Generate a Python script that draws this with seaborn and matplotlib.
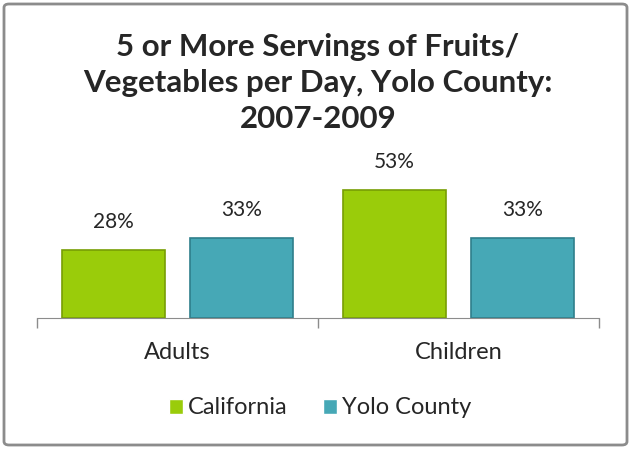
import matplotlib
matplotlib.use("Agg")
import matplotlib.pyplot as plt
import seaborn as sns
import pandas as pd
from matplotlib.patches import FancyBboxPatch

groups = ["Adults", "Adults", "Children", "Children"]
regions = ["California", "Yolo County", "California", "Yolo County"]
pcts = [28, 33, 53, 33]
PALETTE = {"California": "#9ACC0A", "Yolo County": "#46A8B6"}
EDGES = {"California": "#789E04", "Yolo County": "#2F7F8B"}

df = pd.DataFrame({"group": groups, "region": regions, "pct": pcts})

sns.set_style("white")
plt.rcParams["font.family"] = ["Lato", "DejaVu Sans"]

fig = plt.figure(figsize=(6.31, 4.49), dpi=100)
ax = fig.add_axes([37/631, 1-318/449, 562/631, 145.2/449])
sns.barplot(data=df, x="group", y="pct", hue="region", palette=PALETTE, saturation=1,
            width=0.91, gap=0.19, ax=ax, legend=True)

for cont, reg in zip(ax.containers, ["California", "Yolo County"]):
    for b in cont:
        b.set_edgecolor(EDGES[reg]); b.set_linewidth(1.2)
    ax.bar_label(cont, fmt="%.0f%%", padding=13, fontsize=15)

ax.set_ylim(0, 60)
ax.set_xlim(-0.5, 1.5)
ax.set_xlabel(""); ax.set_ylabel("")
ax.set_yticks([])
for s in ["top", "right", "left"]:
    ax.spines[s].set_visible(False)
ax.spines["bottom"].set_color("#8c8c8c")
ax.set_xticks([-0.5, 0.5, 1.5], minor=True)
ax.tick_params(axis="x", which="major", length=0, labelsize=17, pad=17)
ax.tick_params(axis="x", which="minor", bottom=True, length=7, color="#8c8c8c", direction="out", width=1)

ax.legend(loc="center", bbox_to_anchor=(320/631, 1-408/449), bbox_transform=fig.transFigure,
          ncol=2, frameon=False, fontsize=17, handlelength=0.6, handleheight=0.6,
          handletextpad=0.2, columnspacing=1.5)

fig.text(318/631, 1-83/449, "5 or More Servings of Fruits/\nVegetables per Day, Yolo County:\n2007-2009",
         ha="center", va="center", fontsize=22.5, fontweight="bold", linespacing=1.33)

fig.patches.append(FancyBboxPatch((4/631, 4/449), 623/631, 441/449, boxstyle="round,pad=0,rounding_size=0.008",
                                  transform=fig.transFigure, fill=False, edgecolor="#8c8c8c", linewidth=2))

fig.savefig("out.png", dpi=100)
